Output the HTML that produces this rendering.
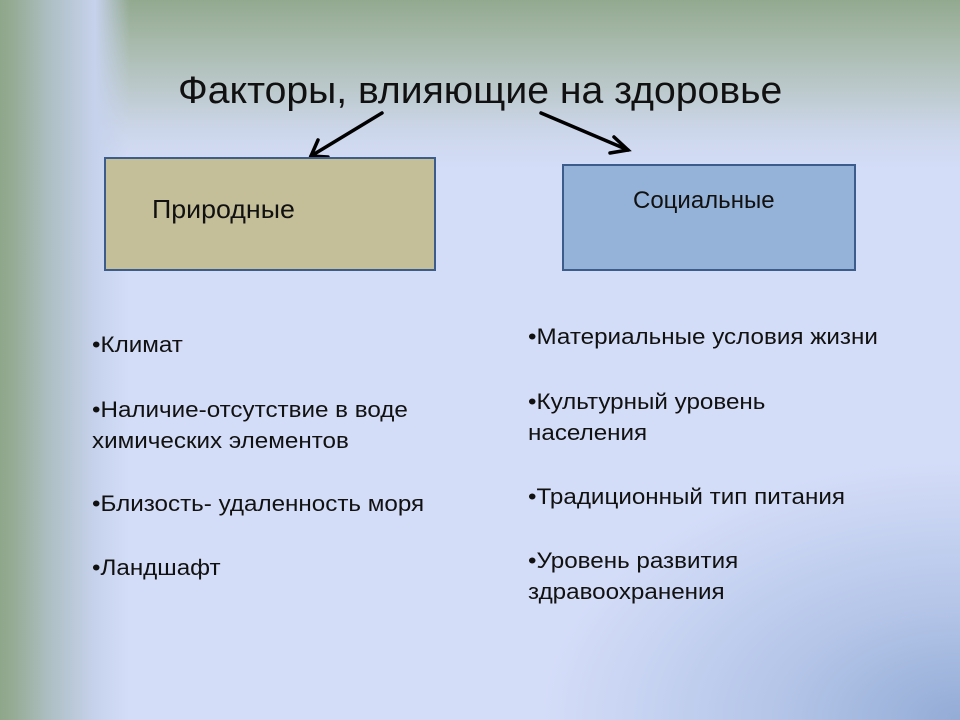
<!DOCTYPE html>
<html><head><meta charset="utf-8"><style>
body{margin:0}
#s{position:relative;width:960px;height:720px;overflow:hidden;background:#d4ddf8;font-family:"Liberation Sans",sans-serif;color:#111}
.bg{position:absolute;inset:0}
.t{position:absolute;white-space:nowrap;transform-origin:0 0}
.box{position:absolute;border:2px solid #3c5d8c;box-sizing:border-box}
.l{font-size:22px;line-height:31px;transform:scaleX(1.1)}
</style></head><body><div id="s">
<div class="bg" style="background:radial-gradient(ellipse 420px 260px at 960px 720px,#93acd6 0%,rgba(160,182,222,.6) 45%,rgba(212,221,248,0) 100%)"></div>
<div class="bg" style="background:linear-gradient(180deg,#93a98f 0px,#a6b9aa 40px,#bcc9cc 90px,#ccd6ea 130px,rgba(212,221,248,0) 170px)"></div>
<div class="bg" style="background:linear-gradient(90deg,#8ea68a 0px,#95ab93 12px,#aebfc4 50px,#c6d2ec 95px,rgba(212,221,248,0) 130px)"></div>
<div class="t" style="left:178px;top:70px;font-size:38px;transform:scaleX(1.03)">Факторы, влияющие на здоровье</div>
<svg width="960" height="720" style="position:absolute;left:0;top:0">
<g stroke="#000" stroke-width="3.5" fill="none" stroke-linecap="round">
<line x1="382" y1="113" x2="311" y2="156"/><polyline points="318,140 311,156 328,157"/>
<line x1="541" y1="113" x2="628" y2="150"/><polyline points="614,137 628,150 610,153"/>
</g></svg>
<div class="box" style="left:104px;top:157px;width:332px;height:114px;background:#c5bf99"></div>
<div class="box" style="left:562px;top:164px;width:294px;height:107px;background:#95b2d8"></div>
<div class="t" style="left:152px;top:194px;font-size:26px;transform:scaleX(1.03)">Природные</div>
<div class="t" style="left:633px;top:187px;font-size:24px;transform:scaleX(1.0)">Социальные</div>
<div class="t l" style="left:92px;top:329px">•Климат</div>
<div class="t l" style="left:92px;top:394px">•Наличие-отсутствие в воде<br>химических элементов</div>
<div class="t l" style="left:92px;top:488px">•Близость- удаленность моря</div>
<div class="t l" style="left:92px;top:552px">•Ландшафт</div>
<div class="t l" style="left:528px;top:321px">•Материальные условия жизни</div>
<div class="t l" style="left:528px;top:386px">•Культурный уровень<br>населения</div>
<div class="t l" style="left:528px;top:481px">•Традиционный тип питания</div>
<div class="t l" style="left:528px;top:545px">•Уровень развития<br>здравоохранения</div>
</div></body></html>
